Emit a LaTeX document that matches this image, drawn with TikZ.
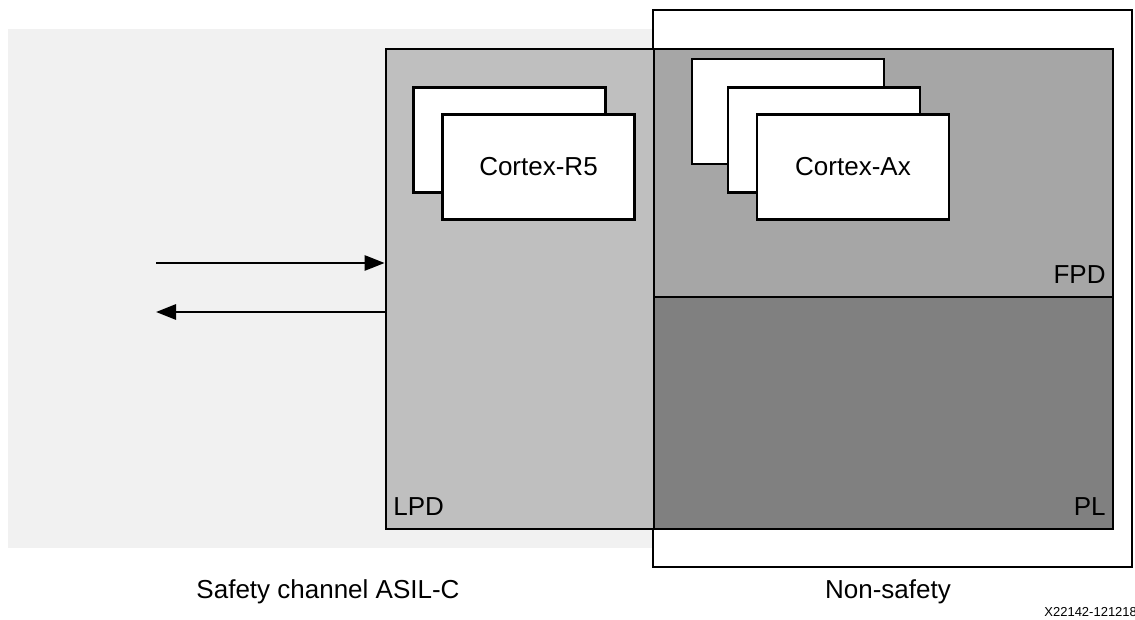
\documentclass[tikz,border=0pt]{standalone}
\usepackage{fontspec}
\setmainfont{Liberation Sans}
\usetikzlibrary{arrows.meta, positioning}

\definecolor{safebg}{HTML}{F1F1F1}
\definecolor{lpdgray}{HTML}{BFBFBF}
\definecolor{fpdgray}{HTML}{A6A6A6}
\definecolor{plgray}{HTML}{808080}

\begin{document}
\begin{tikzpicture}[
    x=1pt, y=-1pt,
    line width=2.8pt,
    pdbox/.style={draw, rectangle, inner sep=0pt},
    core/.style={draw, rectangle, fill=white, minimum width=192pt, minimum height=105pt,
        font=\fontsize{26}{31}\selectfont},
    label text/.style={inner sep=0pt, font=\fontsize{26}{31}\selectfont},
    tag text/.style={inner sep=0pt, font=\fontsize{13}{15}\selectfont},
    link/.style={-{Triangle[length=20pt, width=15pt]}}
]
\useasboundingbox (0,0) rectangle (1135,620);

% Safety / non-safety areas
\fill[safebg] (8,29) rectangle (654,548);
\draw[fill=white] (653,10) rectangle (1132,567);

% Power domains
\node[pdbox, fill=lpdgray, minimum width=268pt, minimum height=480pt] (LPD) at (520,289) {};
\node[pdbox, fill=fpdgray, minimum width=459pt, minimum height=248pt] (FPD) at (883.5,173) {};
\node[pdbox, fill=plgray, minimum width=459pt, minimum height=232pt] (PL) at (883.5,413) {};

% Cores
\node[core] (R5b) at (509.5,140) {};
\node[core] (R5) at (538.5,167) {Cortex-R5};
\node[core] (Ax1) at (788,111.5) {};
\node[core] (Ax2) at (824,140) {};
\node[core] (Ax) at (853,167) {Cortex-Ax};

% Domain labels
\node[label text, anchor=base west] (LPDl) at (392,515) {LPD};
\node[label text, anchor=base east] (FPDl) at (1107,284) {FPD};
\node[label text, anchor=base east] (PLl) at (1107,515) {PL};

% Area labels
\node[label text, anchor=base] (safe) at (328,598) {Safety channel ASIL-C};
\node[label text, anchor=base] (nonsafe) at (888,598) {Non-safety};
\node[tag text, anchor=base west] (tag) at (1043,616) {X22142-121218};

% Arrows
\coordinate (in) at (156,263);
\coordinate (out) at (156,312);
\draw[link] (in) -- (in -| LPD.west);
\draw[link] (out -| LPD.west) -- (out);

\end{tikzpicture}
\end{document}
